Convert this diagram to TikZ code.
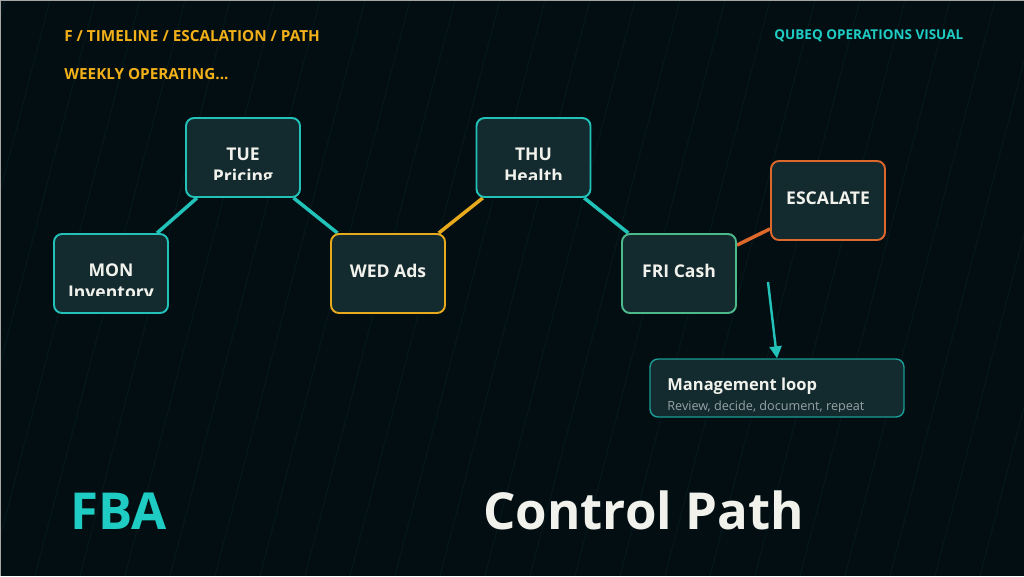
\documentclass[tikz,border=0pt]{standalone}
\usepackage{fontspec}
\setmainfont{Open Sans}
\usetikzlibrary{arrows.meta}

\definecolor{opsBg}{HTML}{020E12}
\definecolor{opsLine}{HTML}{0B2A2F}
\definecolor{opsBox}{HTML}{132A2F}
\definecolor{opsTeal}{HTML}{22C2B9}
\definecolor{opsTealDark}{HTML}{1B9C95}
\definecolor{opsAmber}{HTML}{E6AA1C}
\definecolor{opsGreen}{HTML}{4DBA8B}
\definecolor{opsOrange}{HTML}{DD682C}
\definecolor{opsWhite}{HTML}{F2F2EC}
\definecolor{opsGrey}{HTML}{97A3A5}
\definecolor{opsHead}{HTML}{F2B019}
\definecolor{opsTitle}{HTML}{1FCCC3}

\newcommand{\opsDayFont}{\fontsize{10}{12}\selectfont\bfseries}
\newcommand{\opsHeadFont}{\fontsize{8.7}{10}\selectfont\bfseries}
\newcommand{\opsBigFont}{\fontsize{29}{34}\selectfont\bfseries}

\tikzset{
    BG_LINE/.style={draw=opsLine, line width=0.5pt, opacity=0.4},
    DAY_BOX/.style={draw=opsTeal, fill=opsBox, shape=rectangle,
        rounded corners=0.16cm, minimum width=2.28cm, minimum height=1.58cm,
        inner sep=0mm, text depth=3pt, line width=1.1pt, text=opsWhite, font=\opsDayFont},
    AMBER_BOX/.style={DAY_BOX, draw=opsAmber},
    GREEN_BOX/.style={DAY_BOX, draw=opsGreen},
    ORANGE_BOX/.style={DAY_BOX, draw=opsOrange},
    LOOP_BOX/.style={DAY_BOX, draw=opsTealDark, minimum width=5.08cm,
        minimum height=1.16cm, line width=0.8pt},
    DAY_TEXT/.style={anchor=base, inner sep=0mm, text=opsWhite, font=\opsDayFont},
    HEAD_TEXT/.style={anchor=base west, inner sep=0mm, font=\opsHeadFont},
    BIG_TEXT/.style={anchor=base west, inner sep=0mm, font=\opsBigFont},
    EDGE/.style={draw=opsTeal, line width=2pt},
    AMBER_EDGE/.style={EDGE, draw=opsAmber},
    ORANGE_EDGE/.style={EDGE, draw=opsOrange},
    ARROW/.style={draw=opsTeal, line width=1.4pt,
        -{Triangle[length=2.4mm, width=2.4mm]}}
}
\pgfdeclarelayer{bglayer}
\pgfdeclarelayer{edgelayer}
\pgfdeclarelayer{nodelayer}
\pgfsetlayers{bglayer,edgelayer,nodelayer,main}

\begin{document}
\begin{tikzpicture}[x=0.02cm, y=-0.02cm]
    \begin{pgfonlayer}{bglayer}
        \fill[opsBg] (0,0) rectangle (1024,576);
        \useasboundingbox (0,0) rectangle (1024,576);
        \begin{scope}
            \clip (0,0) rectangle (1024,576);
            \foreach \x in {-190,-145,...,1060}
                \draw[BG_LINE] (\x,576) -- ++(150,-576);
        \end{scope}
        \draw[gray!70, line width=0.8pt] (0,576) -- (0,0) -- (1024,0);
    \end{pgfonlayer}
    \begin{pgfonlayer}{nodelayer}
        \node [HEAD_TEXT, text=opsHead] (path) at (64,41) {F / TIMELINE / ESCALATION / PATH};
        \node [HEAD_TEXT, text=opsHead] (week) at (64,79.5) {WEEKLY OPERATING...};
        \node [HEAD_TEXT, text=opsTitle, font=\fontsize{7.7}{9}\selectfont\bfseries]
            (brand) at (774,39.3) {QUBEQ OPERATIONS VISUAL};
        \node [DAY_BOX] (mon) at (111,273.5) {};
        \node [DAY_BOX] (tue) at (243,157.5) {};
        \node [AMBER_BOX] (wed) at (388,273.5) {WED Ads};
        \node [DAY_BOX] (thu) at (533.5,157.5) {};
        \node [GREEN_BOX] (fri) at (679,273.5) {FRI Cash};
        \node [ORANGE_BOX] (esc) at (828,200.5) {ESCALATE};
        \node [LOOP_BOX] (loop) at (777,388) {};
        \begin{scope}
            \clip (53,233) rectangle (169,295.5);
            \node [DAY_TEXT] (mon day) at (111,276.7) {MON};
            \node [DAY_TEXT] (mon topic) at (111,298.4) {Inventory};
        \end{scope}
        \begin{scope}
            \clip (185,117) rectangle (301,179.5);
            \node [DAY_TEXT] (tue day) at (243,160.7) {TUE};
            \node [DAY_TEXT] (tue topic) at (243,182.4) {Pricing};
        \end{scope}
        \begin{scope}
            \clip (475,117) rectangle (592,179.5);
            \node [DAY_TEXT] (thu day) at (533.5,160.7) {THU};
            \node [DAY_TEXT] (thu topic) at (533.5,182.4) {Health};
        \end{scope}
        \node [HEAD_TEXT, text=opsWhite, font=\fontsize{9.4}{11}\selectfont\bfseries]
            (loop title) at (667,390) {Management loop};
        \begin{scope}
            \clip (650,395) rectangle (904,411.8);
            \node [HEAD_TEXT, text=opsGrey, font=\fontsize{7.2}{8}\selectfont]
                (loop note) at (667,410) {Review, decide, document, repeat};
        \end{scope}
        \node [BIG_TEXT, text=opsTitle] (fba) at (70,529.5) {FBA};
        \node [BIG_TEXT, text=opsWhite] (control) at (483,529.5) {Control Path};
        \coordinate (arrow start) at (768,282);
    \end{pgfonlayer}
    \begin{pgfonlayer}{edgelayer}
        \draw[EDGE] (mon) -- (tue);
        \draw[EDGE] (tue) -- (wed);
        \draw[AMBER_EDGE] (wed) -- (thu);
        \draw[EDGE] (thu) -- (fri);
        \draw[ORANGE_EDGE] (fri) -- (esc);
    \end{pgfonlayer}
    \draw[ARROW] (arrow start) -- (loop.north);
\end{tikzpicture}
\end{document}
